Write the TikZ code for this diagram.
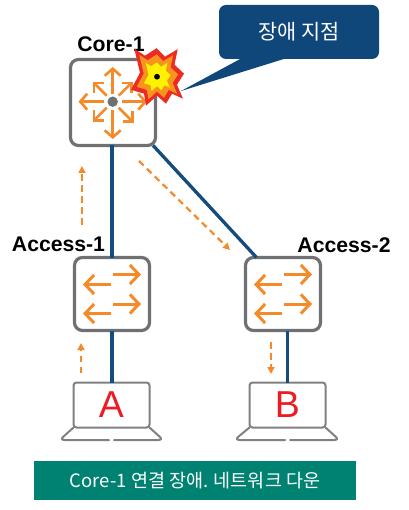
\documentclass[tikz,border=0pt]{standalone}
\usepackage{fontspec}
\setmainfont{Liberation Sans}
\newfontfamily\krfont{Noto Sans CJK KR}
\usetikzlibrary{arrows.meta}
\definecolor{linkblue}{HTML}{154C7E}
\definecolor{calloutblue}{HTML}{10477A}
\definecolor{boxgray}{HTML}{6F7072}
\definecolor{lapgray}{HTML}{808184}
\definecolor{flow}{HTML}{F58A2A}
\definecolor{banner}{HTML}{008272}
\definecolor{letterred}{HTML}{ED1C24}
\definecolor{burstred}{HTML}{EE2A24}
\definecolor{burstorange}{HTML}{F7941D}
\definecolor{burstyellow}{HTML}{FFF200}
\tikzset{
  devicebox/.style={draw=boxgray,line width=3.2pt,fill=white,rounded corners=8pt,outer sep=0pt,inner sep=0pt},
  corebox/.style={devicebox,minimum width=85pt,minimum height=86pt},
  accessbox/.style={devicebox,minimum width=75pt,minimum height=73pt},
  screenbox/.style={draw=lapgray,line width=2pt,fill=white,rounded corners=3pt,outer sep=0pt,inner sep=0pt,minimum width=76pt,minimum height=45pt,text=letterred,font=\fontsize{37.5}{38}\selectfont},
  lapbase/.style={draw=lapgray,line width=2pt,line join=round,line cap=round},
  link/.style={draw=linkblue,line width=3.3pt},
  flowdash/.style={draw=flow,line width=2.2pt,dash pattern=on 6.5pt off 4.5pt,-{Triangle[length=7pt,width=7pt]}},
  swarrow/.style={draw=flow,line width=3pt,-{Straight Barb[length=9pt,width=19pt]}},
  coreaxis/.style={draw=flow,line width=2.6pt,-{Straight Barb[length=7pt,width=16pt]}},
  corediag/.style={draw=flow,line width=2.6pt,-{Straight Barb[length=7pt,width=14pt]}},
  devlabel/.style={inner sep=0pt,font=\fontsize{21.2}{22}\selectfont\bfseries}
}
\begin{document}
\begin{tikzpicture}[x=1pt,y=-1pt]
\useasboundingbox (0,0) rectangle (408,510);
\fill[white] (0,0) rectangle (408,510);

% devices
\node[corebox] (core) at (113,102.5) {};
\node[accessbox] (acc1) at (112,294) {};
\node[accessbox] (acc2) at (283,294) {};
\node[screenbox] (lapA) at (111.5,405) {A};
\node[screenbox] (lapB) at (287.5,405) {B};

% connectors
\draw[link] (acc1.north |- core.south) -- (acc1.north);
\draw[link] (core.-47.4) -- (acc2.126.4);
\draw[link] (acc1.south) -- (lapA.north -| acc1.south);
\draw[link] (acc2.south -| lapB.north) -- (lapB.north);

% laptop bases
\draw[lapbase] (lapA.south west) -- (63,437) .. controls (61,439) and (62,440) .. (65,440) -- (109,440);
\draw[lapbase] (lapA.south east) -- (160,437) .. controls (162,439) and (161,440) .. (158,440) -- (114,440);
\draw[lapbase] (lapB.south west) -- (238,437) .. controls (236,439) and (237,440) .. (240,440) -- (285,440);
\draw[lapbase] (lapB.south east) -- (336,437) .. controls (338,439) and (337,440) .. (334,440) -- (290,440);

% flow arrows
\coordinate (f1s) at (82,225); \coordinate (f1e) at (82,166);
\coordinate (f2s) at (139,161); \coordinate (f2e) at (230,250);
\coordinate (f3s) at (81,373); \coordinate (f3e) at (81,343);
\coordinate (f4s) at (271,342); \coordinate (f4e) at (271,374);
\draw[flowdash] (f1s) -- (f1e);
\draw[flowdash] (f2s) -- (f2e);
\draw[flowdash] (f3s) -- (f3e);
\draw[flowdash] (f4s) -- (f4e);

% switch icons
\draw[swarrow] (113,274.5) -- (141,274.5);
\draw[swarrow] (111,284.5) -- (83,284.5);
\draw[swarrow] (113,304) -- (141,304);
\draw[swarrow] (111,313.5) -- (83,313.5);
\draw[swarrow] (284,274.5) -- (312,274.5);
\draw[swarrow] (282,284.5) -- (254,284.5);
\draw[swarrow] (284,304) -- (312,304);
\draw[swarrow] (282,313.5) -- (254,313.5);

% router icon
\draw[coreaxis] (112.7,94) -- (112.7,67);
\draw[coreaxis] (112.7,110) -- (112.7,139);
\draw[coreaxis] (104,101.7) -- (78.5,101.7);
\draw[coreaxis] (122,101.7) -- (147,101.7);
\draw[corediag] (106.7,95.7) -- (92.7,81.7);
\draw[corediag] (118.7,95.7) -- (132.7,81.7);
\draw[corediag] (106.7,107.7) -- (92.7,121.7);
\draw[corediag] (118.7,107.7) -- (133.7,122.7);
\fill[boxgray] (112.7,101.7) circle (5.2pt);

% labels
\node[devlabel] (lblcore) at (111,44) {Core-1};
\node[devlabel] (lblacc1) at (58.5,244) {Access-1};
\node[devlabel] (lblacc2) at (344,245) {Access-2};

% burst
\def\burstshape{(-22.7,-28) -- (-12,-21) -- (-0.3,-28.5) -- (8,-20) -- (20.7,-27.5) -- (17.5,-12) -- (27,-3) -- (20,8) -- (26,22) -- (15,17) -- (9,27) -- (0,19) -- (-11,29) -- (-13,17) -- (-26,13) -- (-17,-4) -- cycle}
\begin{scope}[shift={(157,76.7)}]
\fill[burstred] \burstshape;
\begin{scope}[scale=0.78]\fill[burstorange] \burstshape;\end{scope}
\begin{scope}[scale=0.5]\fill[burstyellow] \burstshape;\end{scope}
\fill[black] (0,0) circle (2.9pt);
\end{scope}

% callout
\coordinate (tailtip) at (181,91);
\node[fill=calloutblue,rounded corners=7pt,minimum width=160pt,minimum height=54pt,inner sep=0pt,outer sep=0pt,text=white,font=\krfont\fontsize{20.8}{22}\selectfont] (callout) at (299,32) {장애 지점};
\fill[calloutblue] (242,58) -- (tailtip) -- (287,58) -- cycle;

% banner
\node[fill=banner,minimum width=322pt,minimum height=39pt,inner sep=0pt,outer sep=0pt,text=white,font=\krfont\fontsize{18.5}{20}\selectfont] (bannerbox) at (195,480.5) {Core-1 연결 장애. 네트워크 다운};
\end{tikzpicture}
\end{document}
